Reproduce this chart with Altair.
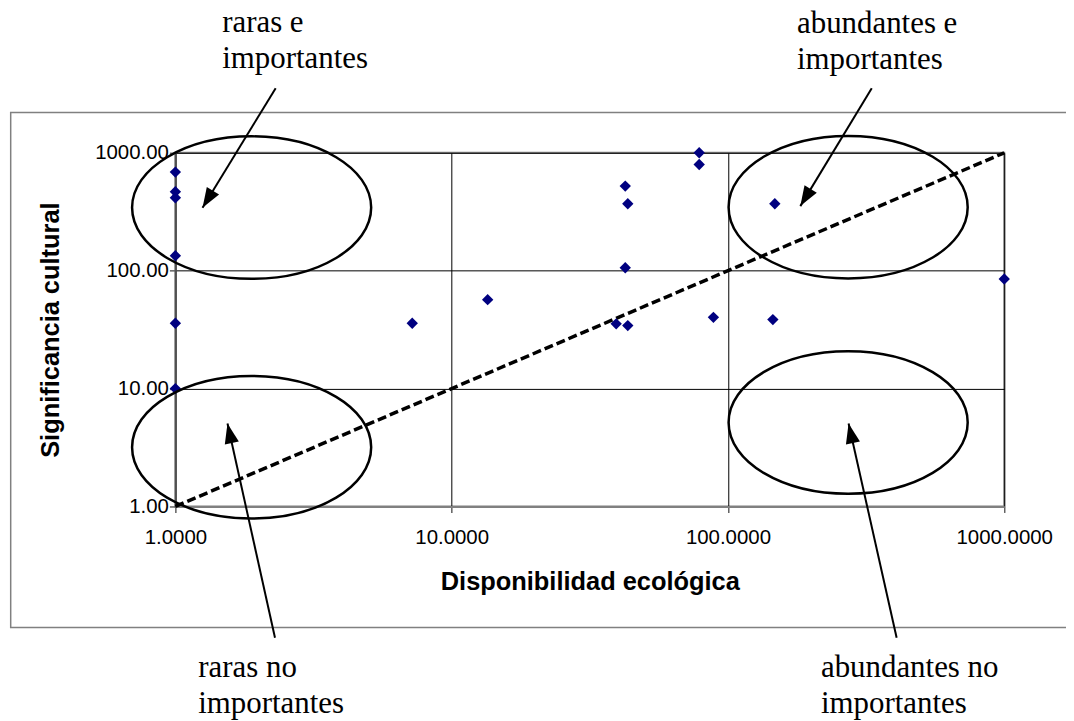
import altair as alt
import pandas as pd

# ---- scatter data (Disponibilidad ecológica vs Significancia cultural) ----
disp = [1, 1, 1, 1, 1, 1, 7.2, 13.5, 42.5, 43.4, 42.5, 39.4, 43.4, 78.7, 78.7, 88.6, 147.8, 145.4, 1000]
sig = [686, 467, 416, 134, 35.8, 10, 35.8, 56.8, 522, 370, 106, 35.4, 34.2, 1000, 796, 40.2, 370, 38.5, 85]

# reference line y = x
line_x = [1, 1000]
line_y = [1, 1000]

# ellipse centres (data units)
ell_x = [1.888, 1.888, 272.3, 272.3]
ell_y = [343, 3.18, 346, 5.15]

# annotation texts (data units, outside the plot area)
labels = ["raras e\nimportantes", "abundantes e\nimportantes",
          "raras no\nimportantes", "abundantes no\nimportantes"]
label_x = [1.477, 177.8, 1.210, 217.1]
label_y = [10640, 10330, 0.0356, 0.0356]

# arrows: tail -> tip (data units)
arrow_x = [2.307, 331.5, 2.294, 407.9]
arrow_y = [3530, 3530, 0.0769, 0.0769]
arrow_x2 = [1.254, 182.8, 1.544, 273.3]
arrow_y2 = [341.7, 353, 5.05, 5.05]
arrow_angle = [211.5, 211.2, 347.5, 347.3]

# outer frame (data units)
frame_x = [0.2535, 10000]
frame_y = [0.094, 2199]

ticks = [1, 10, 100, 1000]

SANS = "Liberation Sans, Arial, sans-serif"
SERIF = "Liberation Serif, Times New Roman, serif"

xs = alt.Scale(type="log", domain=[1, 1000], nice=False)
ys = alt.Scale(type="log", domain=[1, 1000], nice=False)

pts = pd.DataFrame({"x": disp, "y": sig})
ln = pd.DataFrame({"x": line_x, "y": line_y})
ell = pd.DataFrame({"x": ell_x, "y": ell_y})
lab = pd.DataFrame({"x": label_x, "y": label_y, "t": labels})
arr = pd.DataFrame({"x": arrow_x, "y": arrow_y, "x2": arrow_x2, "y2": arrow_y2})
frm = pd.DataFrame({"x": [frame_x[0]], "x2": [frame_x[1]], "y": [frame_y[0]], "y2": [frame_y[1]]})

x_axis = alt.Axis(
    values=ticks, format=".4f", title="Disponibilidad ecológica",
    grid=True, gridColor="#000000", gridWidth=1,
    tickSize=6, tickColor="#606060", tickWidth=1.5,
    domainColor="#808080", domainWidth=2,
    labelFont=SANS, labelFontSize=20.5, labelColor="#000000", labelPadding=15,
    labelFlush=False, labelOverlap=False,
    titleFont=SANS, titleFontSize=25.5, titleFontWeight="bold", titleColor="#000000",
    titleX=416, titleY=83, titleBaseline="alphabetic", titleAlign="center",
)
y_axis = alt.Axis(
    values=ticks, format=".2f", title="Significancia cultural",
    grid=True, gridColor="#000000", gridWidth=1,
    tickSize=6, tickColor="#606060", tickWidth=1.5,
    domainColor="#505050", domainWidth=2,
    labelFont=SANS, labelFontSize=20.5, labelColor="#000000", labelPadding=1,
    labelFlush=False, labelOverlap=False,
    titleFont=SANS, titleFontSize=25.5, titleFontWeight="bold", titleColor="#000000",
    titleAngle=270, titleX=-117, titleY=177.5, titleBaseline="alphabetic", titleAlign="center",
)


def X(f):
    return alt.X(f, type="quantitative", scale=xs, axis=x_axis)


def Y(f):
    return alt.Y(f, type="quantitative", scale=ys, axis=y_axis)


frame = alt.Chart(frm).mark_rect(fillOpacity=0, stroke="#808080", strokeWidth=1.5).encode(
    x=X("x"), x2="x2", y=Y("y"), y2="y2")

points = alt.Chart(pts).mark_point(shape="diamond", filled=True, color="#000080",
                                   size=130, opacity=1).encode(x=X("x"), y=Y("y"))

dline = alt.Chart(ln).mark_line(color="black", strokeWidth=3.5, strokeDash=[9, 4]).encode(
    x=X("x"), y=Y("y"))

ELLIPSE = "M -1 0 A 1 0.596 0 1 0 1 0 A 1 0.596 0 1 0 -1 0 Z"
ellipses = alt.Chart(ell).mark_point(shape=ELLIPSE, size=57600, filled=False, stroke="black",
                                     strokeWidth=2.5, opacity=1).encode(x=X("x"), y=Y("y"))

shafts = alt.Chart(arr).mark_rule(color="black", strokeWidth=2).encode(
    x=X("x"), y=Y("y"), x2="x2", y2="y2")

HEAD = "M 0 0 L -0.36 1 L 0.36 1 Z"
heads = []
for i, a in enumerate(arrow_angle):
    heads.append(
        alt.Chart(arr.iloc[[i]]).mark_point(shape=HEAD, size=1600, filled=True, color="black",
                                            opacity=1, angle=a, strokeWidth=0).encode(
            x=X("x2"), y=Y("y2"))
    )

texts = alt.Chart(lab).mark_text(font=SERIF, fontSize=31, align="left", baseline="alphabetic",
                                 lineBreak="\n", lineHeight=36, color="black").encode(
    x=X("x"), y=Y("y"), text="t:N")

chart = alt.layer(frame, dline, points, ellipses, shafts, *heads, texts).properties(
    width=832, height=355,
    autosize=alt.AutoSizeParams(type="none"),
    padding={"left": 168, "top": 144, "right": 62, "bottom": 213},
).configure_view(stroke="#808080", strokeWidth=2)

chart.save("out.html", embed_options={"renderer": "svg", "actions": False})
